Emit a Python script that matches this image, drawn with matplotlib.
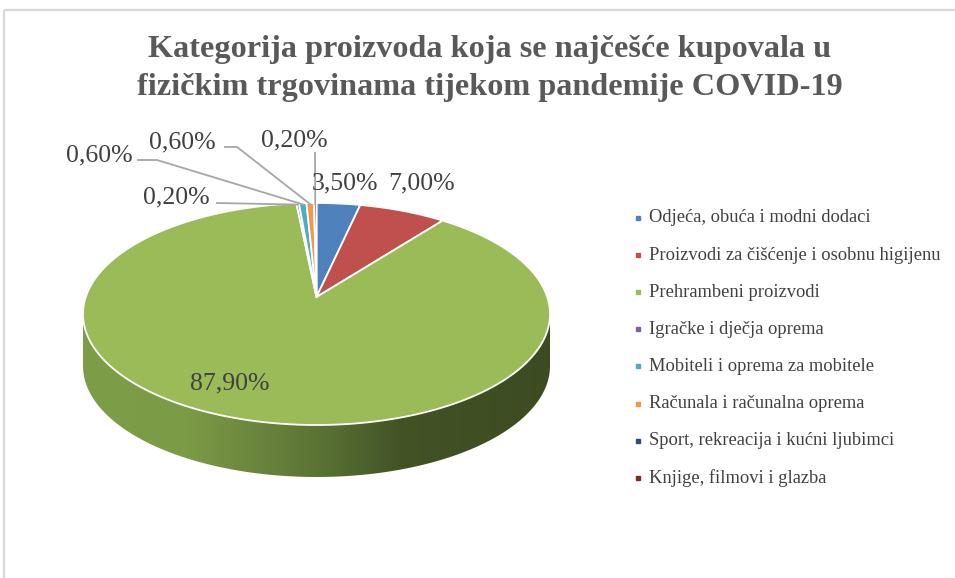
import numpy as np
import matplotlib
matplotlib.use('Agg')
import matplotlib.pyplot as plt
from matplotlib.patches import Polygon
from matplotlib.colors import LinearSegmentedColormap

# ---------------- data ----------------
title_lines = ["Kategorija proizvoda koja se najčešće kupovala u",
               "fizičkim trgovinama tijekom pandemije COVID-19"]
categories = ["Odjeća, obuća i modni dodaci",
              "Proizvodi za čišćenje i osobnu higijenu",
              "Prehrambeni proizvodi",
              "Igračke i dječja oprema",
              "Mobiteli i oprema za mobitele",
              "Računala i računalna oprema",
              "Sport, rekreacija i kućni ljubimci",
              "Knjige, filmovi i glazba"]
values = [3.5, 7.0, 87.9, 0.2, 0.6, 0.6, 0.2, 0.0]
value_labels = ["3,50%", "7,00%", "87,90%", "0,20%", "0,60%", "0,60%", "0,20%", ""]
colors = ["#4F81BD", "#C0504D", "#9BBB59", "#8064A2", "#4BACC6",
          "#F79646", "#2C4D75", "#772C2A"]

# ---------------- style / geometry ----------------
CX, CY, A, B = 316.5, 314.0, 233.5, 111.0   # top ellipse (pixels)
D = 0.153                                     # perspective shift of centre
DEPTH = 52.0
SERIF = ["Liberation Serif", "DejaVu Serif"]
TXT = "#404040"

# label text centres and leader line paths (start, elbow) for small slices
label_pos = [(345, 183), (422, 183), (230, 383), (176, 197),
             (99, 155), (182, 142), (294, 140), None]
leader = [None, None, None,
          [(217, 203)],
          [(138, 160), (157, 160)],
          [(225, 147), (237, 147)],
          [(315, 153)],
          None]


def proj(theta_deg, r=1.0):
    t = np.radians(theta_deg)
    u = r * np.sin(t)
    v = r * np.cos(t)
    den = 1 + D * v
    x = u * np.sqrt(1 - D * D) / den
    y = (v + D) / den
    return CX + A * x, CY - B * y


fig = plt.figure(figsize=(9.55, 5.78), dpi=100)
ax = fig.add_axes([0, 0, 1, 1])
ax.axis("off")

# chart frame (cropped)
ax.plot([3.5, 3.5], [578, 9.5], color="#D9D9D9", lw=1.6, solid_capstyle="butt")
ax.plot([3.5, 955], [9.5, 9.5], color="#D9D9D9", lw=1.6, solid_capstyle="butt")

# ---- side of the pie (front), with gradient ----
phi = np.linspace(np.pi, 2 * np.pi, 200)
top_x = CX + A * np.cos(phi)
top_y = CY - B * np.sin(phi)
side_xy = np.vstack([np.column_stack([top_x, top_y]),
                     np.column_stack([top_x[::-1], top_y[::-1] + DEPTH])])
side_patch = Polygon(side_xy, closed=True, facecolor="none", edgecolor="none")
ax.add_patch(side_patch)
cmap = LinearSegmentedColormap.from_list(
    "side", [(0.0, "#7E9D49"), (0.22, "#7C9B47"), (0.5, "#5C7335"),
             (0.68, "#425326"), (1.0, "#3D4B22")])
grad = np.linspace(0, 1, 512)[None, :]
im = ax.imshow(grad, cmap=cmap, aspect="auto",
               extent=(CX - A, CX + A, CY + B + DEPTH + 2, CY - 5), zorder=1)
im.set_clip_path(side_patch)

# ---- top face wedges ----
total = sum(values)
start = 0.0
mid_angles = []
for val, col in zip(values, colors):
    span = 360.0 * val / total
    mid_angles.append(start + span / 2)
    if val > 0:
        th = np.linspace(start, start + span, max(4, int(span * 2)))
        xs, ys = proj(th)
        cx0, cy0 = proj(0.0, 0.0)
        pts = np.column_stack([np.r_[cx0, xs], np.r_[cy0, ys]])
        ax.add_patch(Polygon(pts, closed=True, facecolor=col, edgecolor="white",
                             lw=1.3, joinstyle="round", zorder=2))
    start += span

# ---- data labels ----
for i, lab in enumerate(value_labels):
    if not lab:
        continue
    x, y = label_pos[i]
    ax.text(x, y, lab, fontsize=18.5, family=SERIF, color=TXT,
            ha="center", va="center", zorder=5)
    if leader[i]:
        ex, ey = proj(mid_angles[i], 0.985)
        path = leader[i] + [(ex, ey)]
        ax.plot([p[0] for p in path], [p[1] for p in path],
                color="#A6A6A6", lw=1.3, zorder=4)

# ---- title ----
ax.text(490, 50, title_lines[0], fontsize=23.2, fontweight="bold", family=SERIF,
        color="#595959", ha="center", va="center")
ax.text(490, 88, title_lines[1], fontsize=23.2, fontweight="bold", family=SERIF,
        color="#595959", ha="center", va="center")

# ---- legend ----
for i, (cat, col) in enumerate(zip(categories, colors)):
    y = 218 + i * 37.1
    ax.plot([637.5], [y], marker="s", markersize=3.3, color=col, lw=0)
    ax.text(649, y, cat, fontsize=13.3, family=SERIF, color=TXT,
            ha="left", va="center")

ax.set_xlim(0, 955)
ax.set_ylim(578, 0)
fig.savefig("out.png", dpi=100)
